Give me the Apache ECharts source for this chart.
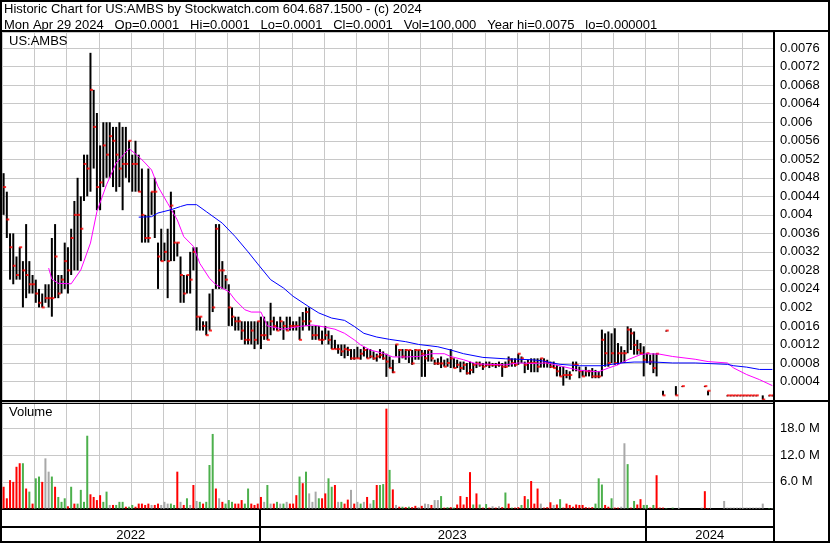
<!DOCTYPE html>
<html><head><meta charset="utf-8">
<script src="https://cdn.jsdelivr.net/npm/echarts@6/dist/echarts.min.js"></script>
<style>html,body{margin:0;padding:0;background:#fff}#c{width:830px;height:543px}</style>
</head><body><div id="c"></div>
<script>
// ---------------- DATA ----------------
const months = ['2022-05','2022-06','2022-07','2022-08','2022-09','2022-10','2022-11','2022-12',
  '2023-01','2023-02','2023-03','2023-04','2023-05','2023-06','2023-07','2023-08','2023-09','2023-10','2023-11','2023-12',
  '2024-01','2024-02','2024-03','2024-04'];
const slotsPerMonth = 10; // each slot ~ 2 trading days
const years = ['2022','2023','2024'];
const yearStartSlot = [0, 80, 200, 240];
const header1 = 'Historic Chart for US:AMBS by Stockwatch.com 604.687.1500 - (c) 2024';
const header2 = 'Mon Apr 29 2024   Op=0.0001   Hi=0.0001   Lo=0.0001   Cl=0.0001   Vol=100,000   Year hi=0.0075   lo=0.000001';
const symbolName = 'US:AMBS';
const priceTicks = {min: 0, max: 0.00795, step: 0.0004};
const volTicks = {min: 0, max: 24, step: 6};

const high = [
 .0049,.0045,.0036,.0036,.0031,.0033,.0030,.0038,.0030,.0027,
 .0026,.0024,.0023,.0025,.0025,.0035,.0038,.0027,.0027,.0034,
 .0033,.0037,.0043,.0048,.0044,.0053,.0053,.0075,.0067,.0062,
 .0055,.0060,.0060,.0060,.0059,.0059,.0060,.0059,.0059,.0056,
 .0053,.0056,.0053,.0050,.0040,.0050,.0045,.0048,.0034,.0037,
 .0034,.0037,.0045,.0041,.0034,.0031,.0027,.0027,.0032,.0033,
 .0033,.0018,.0017,.0017,.0023,.0024,.0038,.0038,.0030,.0027,
 .0025,.0020,.0018,.0018,.0017,.0017,.0017,.0017,.0017,.0017,
 .0018,.0018,.0017,.0021,.0018,.0017,.0018,.0017,.0018,.0018,
 .0017,.0017,.0018,.0019,.0020,.0020,.0016,.0016,.0016,.0015,
 .0016,.0015,.0014,.0013,.0012,.0012,.0012,.00115,.0011,.0011,
 .00115,.0011,.00115,.0011,.0011,.00105,.0010,.0011,.00105,.0010,
 .00094,.00087,.0012,.0011,.0011,.0011,.00108,.00108,.0011,.00108,
 .00108,.00108,.00108,.00108,.00087,.0009,.00094,.00087,.0009,.0011,
 .0009,.00087,.00083,.00083,.0008,.00083,.0008,.00083,.00083,.0008,
 .00083,.00083,.0008,.0008,.00083,.0008,.00083,.00094,.0009,.0009,
 .0010,.00094,.00083,.00087,.0009,.0009,.0009,.0009,.0009,.00087,
 .00083,.00083,.00076,.00072,.00072,.00065,.00062,.00083,.00083,.00072,
 .00065,.00072,.00065,.00069,.00065,.00062,.00152,.00144,.00148,.00144,
 .00155,.00123,.00116,.00108,.00159,.00155,.00148,.0013,.00123,.00116,
 .00101,.00098,.00101,.00101,null,.0002,.0015,null,null,.0003,
 null,.0003,null,null,null,null,null,null,.0003,.0002,
 null,null,null,null,null,.0001,.0001,.0001,.0001,.0001,
 .0001,.0001,.0001,.0001,.0001,null,.0001,null,.0001,.0001];
const low = [
 .0040,.0035,.0026,.0025,.0026,.0026,.0020,.0022,.0023,.0023,
 .0021,.0020,.0020,.0021,.0020,.0018,.0022,.0022,.0023,.0024,
 .0023,.0027,.0028,.0028,.0030,.0043,.0044,.0045,.0050,.0041,
 .0041,.0046,.0048,.0048,.0046,.0045,.0046,.0041,.0048,.0047,
 .0045,.0045,.0045,.0034,.0034,.0034,.0040,.0035,.0024,.0030,
 .0030,.0022,.0030,.0030,.0031,.0021,.0021,.0023,.0023,.0028,
 .0015,.0015,.0015,.0014,.0015,.0019,.0024,.0024,.0024,.0024,
 .0016,.0016,.0015,.0015,.0013,.0012,.0012,.0012,.0011,.0012,
 .0011,.0013,.0013,.0014,.0015,.0015,.0015,.0013,.0015,.0015,
 .0015,.0015,.0013,.0015,.0016,.0015,.0013,.0013,.0013,.0012,
 .0013,.0012,.0011,.0011,.0010,.00095,.0009,.00095,.00087,.00087,
 .0009,.00087,.00094,.0009,.0009,.00087,.00083,.0009,.00087,.0005,
 .00069,.00058,.00094,.0008,.0009,.00087,.0008,.00076,.00087,.00087,
 .0005,.0005,.00083,.00083,.00076,.00076,.00069,.00072,.00072,.00069,
 .00069,.00069,.0006,.00065,.00055,.00055,.00058,.00069,.00072,.00065,
 .00072,.00069,.00072,.00069,.00072,.0005,.00069,.00072,.00072,.00072,
 .00076,.0008,.00058,.00065,.0006,.0006,.0006,.0007,.0007,.0007,
 .00069,.00069,.00051,.00051,.00031,.00047,.00044,.00062,.00062,.00047,
 .00051,.00051,.00051,.00047,.00047,.00047,.00051,.00072,.00072,.0008,
 .00076,.00076,.0008,.0008,.00101,.00108,.00098,.00098,.00098,.00051,
 .0008,.00076,.00058,.00051,null,.0001,.0015,null,null,.0001,
 null,.0003,null,null,null,null,null,null,.0003,.0001,
 null,null,null,null,null,.0001,.0001,.0001,.0001,.0001,
 .0001,.0001,.0001,.0001,.0001,null,.00001,null,.0001,.0001];
const close = [
 .0046,.0039,.0033,.0029,.0027,.0033,.0028,.0027,.0025,.0025,
 .0023,.0021,.0020,.0022,.0022,.0022,.0031,.0023,.0026,.0030,
 .0028,.0035,.0040,.0040,.0037,.0051,.0050,.0067,.0059,.0046,
 .0047,.0055,.0053,.0057,.0056,.0053,.0050,.0051,.0051,.0056,
 .0051,.0051,.0045,.0040,.0035,.0035,.0045,.0045,.0031,.0030,
 .0032,.0030,.0042,.0034,.0034,.0027,.0023,.0027,.0026,.0032,
 .0018,.0018,.0016,.0014,.0015,.0020,.0037,.0028,.0028,.0026,
 .0020,.0018,.0017,.0017,.0015,.0013,.0013,.0015,.0013,.0017,
 .0014,.0014,.0013,.0017,.0016,.0015,.0017,.0016,.0015,.0016,
 .0016,.0016,.0013,.0017,.0019,.0017,.0014,.0014,.0013,.0013,
 .0014,.0013,.0011,.0011,.0011,.00105,.0011,.00108,.0009,.0009,
 .0009,.0010,.00108,.0009,.00094,.0009,.00094,.00097,.0009,.00083,
 .00069,.0006,.0012,.00108,.00094,.00108,.00108,.00079,.00108,.00108,
 .0010,.0009,.00108,.0009,.00079,.00079,.00079,.00072,.0008,.0009,
 .00069,.00076,.00069,.00076,.00058,.00065,.00076,.00079,.00076,.00072,
 .00076,.00076,.00076,.00076,.00076,.00072,.00072,.00087,.0008,.00076,
 .0010,.0009,.00076,.0008,.0008,.0008,.00072,.0009,.00083,.0008,
 .00072,.00069,.00062,.00051,.00054,.00054,.00054,.00076,.00076,.00062,
 .00051,.00062,.00062,.00051,.00051,.00051,.0013,.00101,.0008,.00101,
 .0008,.00101,.00101,.00101,.00152,.00144,.00119,.00108,.00101,.00087,
 .00101,.00083,.00069,.001,null,.0001,.0015,null,null,.0001,
 null,.0003,null,null,null,null,null,null,.0003,.0002,
 null,null,null,null,null,.0001,.0001,.0001,.0001,.0001,
 .0001,.0001,.0001,.0001,.0001,null,.00001,null,.0001,.0001];
// volume in millions of shares
const volume = [
 4.9,2.3,6.4,6.0,9.4,10.2,10.2,4.5,3.8,1.1,
 6.8,7.2,6.0,11.3,8.3,7.2,4.9,2.6,1.5,2.3,
 0.5,4.9,1.1,1.1,4.2,1.5,16.4,3.2,2.6,1.9,
 3.0,1.5,3.8,0.8,0.8,0.8,1.5,1.5,0.4,0.4,
 0.8,0.4,1.1,1.1,0.8,1.1,0.8,0.8,1.1,0.8,
 1.5,1.1,1.1,0.8,8.3,1.5,0.8,2.3,0.8,5.3,
 1.7,1.5,1.1,1.5,9.8,16.8,4.5,2.3,1.5,1.1,
 1.9,1.5,1.1,1.1,1.9,1.1,4.5,1.1,0.8,1.1,
 2.6,1.5,5.3,1.1,1.1,1.5,1.1,1.1,1.5,1.1,
 1.1,3.0,7.2,5.7,8.3,3.4,1.5,3.8,2.3,2.3,
 3.4,6.8,4.9,5.3,1.5,1.5,1.1,2.0,4.2,1.1,
 1.5,1.1,1.5,2.6,1.1,1.9,5.3,5.3,5.5,22.5,
 8.7,4.3,0.8,0.4,0.4,0.3,0.4,0.3,0.6,0.3,
 0.6,1.1,1.0,0.8,1.9,1.9,2.8,0.2,0.3,0.3,
 0.2,0.9,2.8,0.9,2.6,8.2,0.9,3.4,0.9,0.2,
 1.0,0.2,0.5,0.2,0.5,0.3,3.6,1.1,0.2,0.2,
 0.3,0.8,2.8,2.1,6.2,1.1,4.5,1.1,0.2,0.3,
 1.4,0.8,0.9,2.1,0.2,1.1,0.8,0.4,0.9,0.8,
 0.8,0.3,0.2,0.3,1.1,6.8,5.4,0.8,0.4,2.3,
 0.2,0.2,0.4,14.7,10.0,0.2,1.7,0.9,2.1,0.8,
 0.8,0.2,0.8,7.5,0.2,0.2,0.1,0,0.2,0,
 0.2,0,0,0,0,0,0,0.2,3.9,0.1,
 0,0,0,0,1.7,0.2,0.2,0.2,0.2,0.2,
 0.2,0.2,0.2,0.2,0.2,0.2,1.1,0,0.1,0.1];
// r = down, g = up, n = unchanged
const volumeDir = [
 'rrrrrrgrgr','ggrnngrggg','rgrggggrrr','rggnrgggrg','grrrrrnrrn','nnggrnrgnr',
 'ngrgggrnrg','ggrrrggrrr','rngnrgngnr','rrgrgnnngr','rggrngrrnr','ngnrngrggr',
 'grnrgrgrrn','rnnrnngrgr','grrrrrgrgr','grnrnrgrgr','rgrgrrrnrr','rnrgrrrrrr',
 'rrrrgggrrg','rrnngrgrrg','grgrrrgngn','nnnnnnnnrr','nnnnnnnnnn','nnnnnnnngn'].join('');
// moving averages: [slot, value]
const maShort = [[14,.00285],[15,.00261],[17,.00252],[21,.00251],[24,.00281],[27,.00339],[29,.00407],[32,.00465],
 [35,.00512],[39,.00543],[42,.00526],[44,.00512],[46,.00497],[48,.00461],[51,.00425],[54,.00389],[56,.00353],
 [59,.00332],[61,.00295],[64,.00263],[66,.00249],[70,.00234],[72,.00216],[75,.00195],[77,.0019],[80,.0019],
 [82,.0016],[87,.00153],[92,.00159],[96,.00162],[98,.0016],[103,.00153],[106,.00144],[109,.0013],[111,.00119],
 [114,.00108],[118,.00101],[121,.00093],[125,.00093],[129,.00094],[133,.001],[137,.001],[139,.00094],[143,.00087],
 [147,.00078],[151,.00077],[156,.00076],[160,.0008],[164,.00079],[169,.0008],[174,.00072],[179,.00064],[185,.00061],
 [188,.00069],[191,.00076],[194,.00087],[198,.00098],[200,.001],[204,.00099],[208,.00094],[215,.00088],[219,.00083],
 [225,.0008],[227,.00069],[231,.00055],[235,.00044],[239,.00031]];
const maLong = [[42,.00395],[46,.00396],[48,.00404],[52,.00411],[55,.00418],[57,.00422],[60,.00422],[63,.00407],
 [68,.00382],[72,.00353],[76,.0032],[79,.00294],[83,.0026],[87,.00242],[90,.00224],[95,.00201],[98,.00188],
 [102,.00177],[106,.00172],[109,.00159],[112,.00144],[116,.00136],[120,.00131],[125,.00126],[129,.0012],
 [135,.00115],[139,.00108],[143,.001],[149,.00092],[156,.00089],[164,.00087],[167,.00085],[173,.00077],
 [179,.00074],[186,.00074],[192,.0008],[196,.00082],[202,.00082],[208,.0008],[215,.0008],[225,.00077],
 [227,.00074],[231,.00071],[235,.00066],[239,.00066]];

// ---------------- CHART ----------------
const slots = months.flatMap(m => Array.from({length: slotsPerMonth}, (_, k) => m + '#' + (k + 1)));
const monthStartSlots = months.map((m, k) => k * slotsPerMonth);
const FONT = '"Liberation Sans", Arial, sans-serif';
const GRIDC = '#c8c8c8';
const COL = {r: '#ff0000', g: '#4cb04c', n: '#a8a8a8'};
const yearBounds = yearStartSlot.slice(1, -1);
const yearMid = years.map((y, k) => (yearStartSlot[k] + yearStartSlot[k + 1]) / 2);
const gridBox = [
  {left: 2, right: 56, top: 32, height: 368},
  {left: 2, right: 56, top: 402, height: 106.5},
  {left: 2, right: 56, top: 509, height: 18}
];

const hlData = [], closeData = [];
high.forEach((h, i) => {
  if (h != null) { hlData.push([i, low[i], h]); closeData.push([i, close[i]]); }
});
const volData = volume.map((v, i) => v > 0 ? {value: v, itemStyle: {color: COL[volumeDir[i]]}} : null);

const catAxis = (gi) => ({
  gridIndex: gi, type: 'category', data: slots, boundaryGap: true,
  axisLine: {show: false}, axisTick: {show: false}, axisLabel: {show: false},
  splitLine: {show: false}, splitArea: {show: false}
});
const labelStyle = {color: '#000', fontFamily: FONT, fontSize: 13};
const frame = [
  {type: 'rect', z: 100, silent: true, shape: {x: 1, y: 1, width: 828, height: 541}, style: {fill: 'none', stroke: '#000', lineWidth: 2}},
  {type: 'line', z: 100, silent: true, shape: {x1: 0, y1: 31, x2: 830, y2: 31}, style: {stroke: '#000', lineWidth: 2}},
  {type: 'line', z: 100, silent: true, shape: {x1: 0, y1: 401, x2: 830, y2: 401}, style: {stroke: '#000', lineWidth: 2}},
  {type: 'line', z: 100, silent: true, shape: {x1: 0, y1: 403.5, x2: 774, y2: 403.5}, style: {stroke: '#000', lineWidth: 1}},
  {type: 'line', z: 100, silent: true, shape: {x1: 774, y1: 31, x2: 774, y2: 543}, style: {stroke: '#000', lineWidth: 2}}
];

const option = {
  animation: false,
  backgroundColor: '#fff',
  textStyle: {fontFamily: FONT},
  title: [
    {text: header1 + '\n' + header2, left: 4, top: 1, padding: 0,
     textStyle: {fontSize: 13, fontWeight: 'normal', color: '#000', lineHeight: 16, fontFamily: FONT}},
    {text: symbolName, left: 9, top: 35, padding: 0, textStyle: {fontSize: 13, fontWeight: 'normal', color: '#000', fontFamily: FONT}},
    {text: 'Volume', left: 9, top: 406, padding: 0, textStyle: {fontSize: 13, fontWeight: 'normal', color: '#000', fontFamily: FONT}}
  ],
  grid: gridBox,
  xAxis: [
    catAxis(0),
    Object.assign(catAxis(1), {axisLine: {show: true, onZero: false, lineStyle: {color: '#000', width: 2}}}),
    {gridIndex: 2, type: 'value', min: 0, max: slots.length,
     axisLine: {show: true, lineStyle: {color: '#000', width: 2}},
     axisTick: {show: true, inside: true, length: 18, customValues: yearBounds, lineStyle: {color: '#000', width: 2}},
     axisLabel: {show: false}, splitLine: {show: false}, splitArea: {show: false}},
    {gridIndex: 2, type: 'value', min: 0, max: slots.length, position: 'bottom',
     axisLine: {show: false},
     axisTick: {show: true, inside: false, length: 15, customValues: yearBounds, lineStyle: {color: '#000', width: 2}},
     axisLabel: Object.assign({customValues: yearMid, margin: 2, formatter: v => years[yearMid.indexOf(v)] || ''}, labelStyle),
     splitLine: {show: false}, splitArea: {show: false}}
  ],
  yAxis: [
    {gridIndex: 0, type: 'value', position: 'right', min: priceTicks.min, max: priceTicks.max, interval: priceTicks.step,
     axisLine: {show: false}, axisTick: {show: false}, splitArea: {show: false},
     axisLabel: Object.assign({margin: 6, showMaxLabel: false,
       formatter: v => (v > 0 && v < priceTicks.max - priceTicks.step / 2) ? String(+v.toFixed(4)) : ''}, labelStyle),
     splitLine: {show: true, lineStyle: {color: GRIDC, width: 1}}},
    {gridIndex: 1, type: 'value', position: 'right', min: volTicks.min, max: volTicks.max, interval: volTicks.step,
     axisLine: {show: false}, axisTick: {show: false}, splitArea: {show: false},
     axisLabel: Object.assign({margin: 6,
       formatter: v => (v > 0 && v < volTicks.max) ? v.toFixed(1) + ' M' : ''}, labelStyle),
     splitLine: {show: true, lineStyle: {color: GRIDC, width: 1}}},
    {gridIndex: 2, type: 'value', show: false}
  ],
  series: [
    {type: 'custom', xAxisIndex: 0, yAxisIndex: 0, data: hlData, encode: {x: 0, y: [1, 2]}, z: 2,
     renderItem: (params, api) => {
       const top = api.coord([api.value(0), api.value(2)]);
       const bot = api.coord([api.value(0), api.value(1)]);
       return {type: 'rect', shape: {x: top[0] - 1, y: top[1], width: 2, height: Math.max(1, bot[1] - top[1])},
               style: {fill: '#000'}};
     }},
    {type: 'scatter', xAxisIndex: 0, yAxisIndex: 0, data: closeData, symbol: 'rect', symbolSize: [3, 2],
     symbolOffset: [1, 0], itemStyle: {color: '#ff0000'}, z: 3, silent: true},
    {type: 'line', xAxisIndex: 0, yAxisIndex: 0, data: maShort, showSymbol: false, z: 4,
     lineStyle: {color: '#ff00ff', width: 1}},
    {type: 'line', xAxisIndex: 0, yAxisIndex: 0, data: maLong, showSymbol: false, z: 4,
     lineStyle: {color: '#0000ff', width: 1}},
    {type: 'bar', xAxisIndex: 1, yAxisIndex: 1, data: volData, barWidth: 2, z: 2}
  ],
  graphic: frame
};
const chart = echarts.init(document.getElementById('c'));
chart.setOption(option);

// monthly vertical grid lines: positions taken from the chart's own slot scale (xAxis 2 spans the same width)
const px = (finder, v) => chart.convertToPixel(finder, v);
let bandW = px({xAxisIndex: 0}, 1) - px({xAxisIndex: 0}, 0);
const monthX = monthStartSlots.map(s => {
  let x = px({xAxisIndex: 2}, s);
  if (x == null || !isFinite(x)) x = px({xAxisIndex: 0}, s) - bandW / 2;
  return Math.round(x) + 0.5;
});
const panels = [
  [px({yAxisIndex: 0}, priceTicks.max), px({yAxisIndex: 0}, priceTicks.min)],
  [px({yAxisIndex: 1}, volTicks.max), px({yAxisIndex: 1}, volTicks.min)]
];
const gridLines = [];
panels.forEach(([yTop, yBot]) => {
  monthX.forEach(x => {
    if (isFinite(x) && isFinite(yTop) && isFinite(yBot)) {
      gridLines.push({type: 'line', z: 1, silent: true,
        shape: {x1: x, y1: yTop, x2: x, y2: yBot}, style: {stroke: GRIDC, lineWidth: 1}});
    }
  });
});
chart.setOption({graphic: {elements: frame.concat(gridLines)}});
</script></body></html>
